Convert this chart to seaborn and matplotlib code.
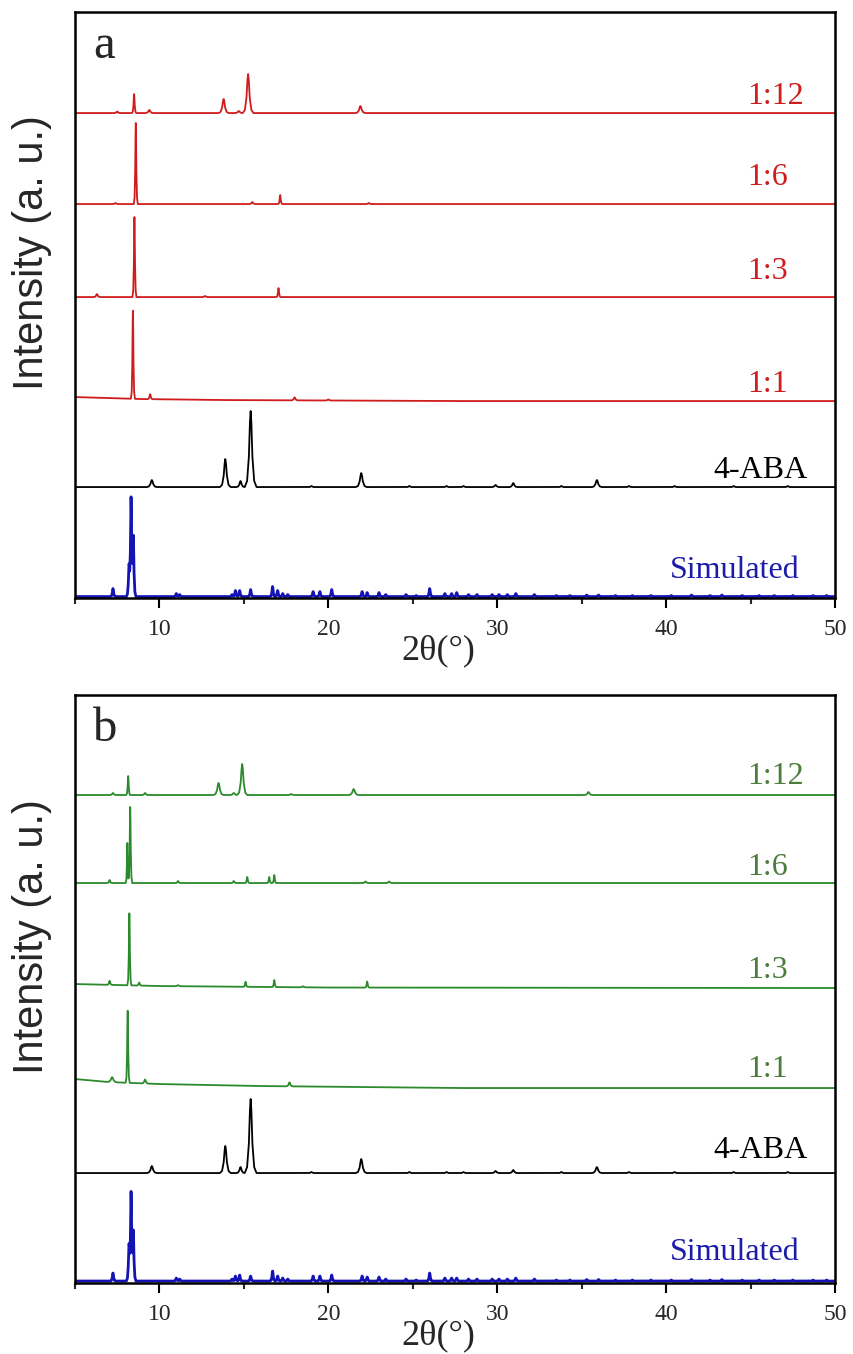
import numpy as np
import matplotlib.pyplot as plt
from matplotlib.ticker import MultipleLocator
import seaborn as sns

# ---- data: peak positions (2theta), heights and half widths ----
X_MIN, X_MAX = 5, 50

# simulated pattern (same in both panels)
sim_pos = [7.25, 8.2, 8.32, 8.45, 11.0, 11.2, 14.3, 14.5, 14.75, 15.4, 16.7, 17.0, 17.3, 17.6,
           19.1, 19.5, 20.2, 22.0, 22.3, 23.0, 23.4, 24.6, 25.2, 26.0, 26.9, 27.3, 27.6, 28.3,
           28.8, 29.7, 30.1, 30.6, 31.1, 32.2, 33.5, 34.3, 35.3, 36.0, 37.0, 38.0, 39.1, 40.3,
           41.5, 42.6, 43.3, 44.5, 45.5, 46.4, 47.5, 48.7, 49.5]
sim_a_h = [8, 30, 96, 60, 3, 2, 2, 6, 6, 7, 10, 6, 3, 2,
           5, 5, 7, 5, 4, 4, 2, 2, 1, 8, 3, 3, 4, 2,
           2, 2, 2, 2, 3, 2, 1, 1, 1.5, 1.5, 1, 1, 1, 1,
           1.5, 1, 1.5, 1, 1, 1, 1, 1, 1]
sim_b_h = [8, 35, 86, 50, 3, 2, 2, 5, 6, 5, 10, 5, 3, 2,
           5, 5, 6, 5, 4, 4, 2, 2, 1, 8, 3, 3, 3, 2,
           2, 2, 2, 2, 3, 2, 1, 1, 1.5, 1.5, 1, 1, 1, 1,
           1.5, 1, 1.5, 1, 1, 1, 1, 1, 1]
sim_w = [0.15, 0.16, 0.14, 0.16] + [0.15] * 47

# 4-ABA
aba_pos = [9.55, 13.9, 14.8, 15.4, 19.0, 21.95, 24.8, 27.0, 28.0, 29.9, 30.95, 33.8, 35.9,
           37.8, 40.5, 44.0, 47.2]
aba_a_h = [7, 28, 6, 76, 1, 14, 1, 1, 1, 2, 4, 1, 7, 1, 1, 1, 1]
aba_b_h = [7, 27, 6, 74, 1, 14, 1, 1, 1, 2, 3, 1, 6, 1, 1, 1, 1]
aba_w = [0.3, 0.32, 0.25, 0.35, 0.2, 0.32, 0.2, 0.2, 0.2, 0.25, 0.25, 0.2, 0.3, 0.2, 0.2, 0.2, 0.2]

# panel a (red)
a11_pos = [8.43, 9.45, 18.0, 20.0]
a11_h = [88, 5, 3, 1]
a11_w = [0.12, 0.15, 0.2, 0.2]
a11_base_x = [5, 7, 9, 14, 28, 50]
a11_base_y = [4, 3, 2, 1, 0, 0]

a13_pos = [6.3, 8.52, 12.7, 17.05]
a13_h = [3, 80, 1, 9]
a13_w = [0.2, 0.12, 0.2, 0.13]

a16_pos = [7.4, 8.6, 15.5, 17.15, 22.4]
a16_h = [1, 81, 2, 9, 1]
a16_w = [0.2, 0.12, 0.2, 0.13, 0.2]

a112_pos = [7.5, 8.5, 9.4, 13.8, 14.7, 15.25, 21.9]
a112_h = [1.5, 19, 3, 14, 2, 39, 7]
a112_w = [0.2, 0.13, 0.25, 0.3, 0.25, 0.32, 0.3]

# panel b (green)
b11_pos = [7.2, 8.12, 9.15, 17.7]
b11_h = [5, 72, 4, 4]
b11_w = [0.3, 0.12, 0.2, 0.2]
b11_base_x = [5, 7, 10, 16, 28, 50]
b11_base_y = [9, 6, 4, 2, 0, 0]

b13_pos = [7.05, 8.22, 8.8, 11.1, 15.1, 16.8, 18.5, 22.3]
b13_h = [4, 72, 3, 1, 5, 7, 1, 6]
b13_w = [0.15, 0.12, 0.15, 0.2, 0.13, 0.13, 0.2, 0.13]
b13_base_x = [5, 10, 20, 50]
b13_base_y = [4, 2, 0.5, 0]

b16_pos = [7.05, 8.1, 8.27, 11.1, 14.4, 15.2, 16.5, 16.8, 22.2, 23.6]
b16_h = [3, 40, 76, 2, 2, 6, 6, 8, 1.5, 1.5]
b16_w = [0.15, 0.1, 0.12, 0.15, 0.15, 0.13, 0.12, 0.12, 0.2, 0.2]

b112_pos = [7.25, 8.15, 9.15, 13.5, 14.4, 14.9, 17.8, 21.5, 35.4]
b112_h = [2, 19, 2, 12, 2, 31, 1, 6, 3]
b112_w = [0.2, 0.12, 0.2, 0.3, 0.25, 0.3, 0.2, 0.3, 0.25]

labels = ["Simulated", "4-ABA", "1:1", "1:3", "1:6", "1:12"]
offsets_a = [1.5, 111, 197, 301, 394, 485]
offsets_b = [2, 110, 195, 295, 400, 488]
label_x = [40.2, 42.8, 44.8, 44.8, 44.8, 44.8]
label_y_a = [20, 120, 206, 319, 413, 494]
label_y_b = [23, 125, 206, 305, 408, 499]

RED, GREEN, BLUE = "#d01c1c", "#2b8a2b", "#1414b4"
GREEN_TXT, BLUE_TXT = "#4c7c3a", "#1c1caa"

# simple peak profile (relative to half width / height)
K = np.array([-1, -0.6, -0.3, -0.12, 0, 0.12, 0.3, 0.6, 1])
F = np.array([0, 0.08, 0.4, 0.85, 1, 0.85, 0.4, 0.08, 0])


def trace(pos, hts, wid, base_x=(X_MIN, X_MAX), base_y=(0, 0)):
    pos = np.asarray(pos, float)
    hts = np.asarray(hts, float)
    wid = np.broadcast_to(np.asarray(wid, float), pos.shape)
    xs = [X_MIN, X_MAX] + list(base_x)
    for p, w in zip(pos, wid):
        xs += list(p + K * w)
    xs = np.unique(np.clip(xs, X_MIN, X_MAX))
    ys = np.interp(xs, base_x, base_y)
    for p, h, w in zip(pos, hts, wid):
        ys = ys + h * np.interp(xs, p + K * w, F, left=0, right=0)
    return xs, ys


sns.set_theme(style="ticks")
plt.rcParams["font.family"] = ["Liberation Serif", "DejaVu Serif"]

fig = plt.figure(figsize=(8.54, 13.54), dpi=100)
ax_a = fig.add_axes([0.0878, 0.5583, 0.89, 0.4328])
ax_b = fig.add_axes([0.0878, 0.0524, 0.89, 0.4343])

panels = [
    (ax_a, "a", 586, offsets_a, label_y_a,
     [trace(sim_pos, sim_a_h, sim_w), trace(aba_pos, aba_a_h, aba_w),
      trace(a11_pos, a11_h, a11_w, a11_base_x, a11_base_y), trace(a13_pos, a13_h, a13_w),
      trace(a16_pos, a16_h, a16_w), trace(a112_pos, a112_h, a112_w)],
     [BLUE, "black", RED, RED, RED, RED], [BLUE_TXT, "black", RED, RED, RED, RED]),
    (ax_b, "b", 588, offsets_b, label_y_b,
     [trace(sim_pos, sim_b_h, sim_w), trace(aba_pos, aba_b_h, aba_w),
      trace(b11_pos, b11_h, b11_w, b11_base_x, b11_base_y),
      trace(b13_pos, b13_h, b13_w, b13_base_x, b13_base_y),
      trace(b16_pos, b16_h, b16_w), trace(b112_pos, b112_h, b112_w)],
     [BLUE, "black", GREEN, GREEN, GREEN, GREEN], [BLUE_TXT, "black", GREEN_TXT, GREEN_TXT, GREEN_TXT, GREEN_TXT]),
]

for ax, letter, ytop, offs, ly, traces, cols, tcols in panels:
    for (xs, ys), off, c, tc, lab, lx, lyy in zip(traces, offs, cols, tcols, labels, label_x, ly):
        sns.lineplot(x=xs, y=ys + off, ax=ax, color=c, estimator=None, sort=False,
                     linewidth=2.0 if c == BLUE else 1.3)
        ax.text(lx, lyy, lab, color=tc, fontsize=23, ha="left", va="baseline")
    ax.set_xlim(X_MIN, X_MAX)
    ax.set_ylim(0, ytop)
    ax.set_yticks([])
    ax.xaxis.set_major_locator(MultipleLocator(10))
    ax.xaxis.set_minor_locator(MultipleLocator(5))
    ax.tick_params(axis="x", which="major", direction="out", length=7, width=1.5,
                   labelsize=17, pad=8, color="black")
    ax.tick_params(axis="x", which="minor", direction="out", length=4, width=1.5)
    for s in ax.spines.values():
        s.set_visible(True)
        s.set_linewidth(1.8)
        s.set_color("black")
    ax.set_xlabel("2θ(°)", fontsize=26)
    ax.xaxis.set_label_coords(0.478, -0.062)
    ax.set_ylabel("Intensity (a. u.)", fontsize=30, family=["Liberation Sans", "DejaVu Sans"])
    ax.yaxis.set_label_coords(-0.03, 0.59)
    ax.text(0.024, 0.922, letter, transform=ax.transAxes, fontsize=35, va="baseline", ha="left")

fig.savefig("out.png", dpi=100)
